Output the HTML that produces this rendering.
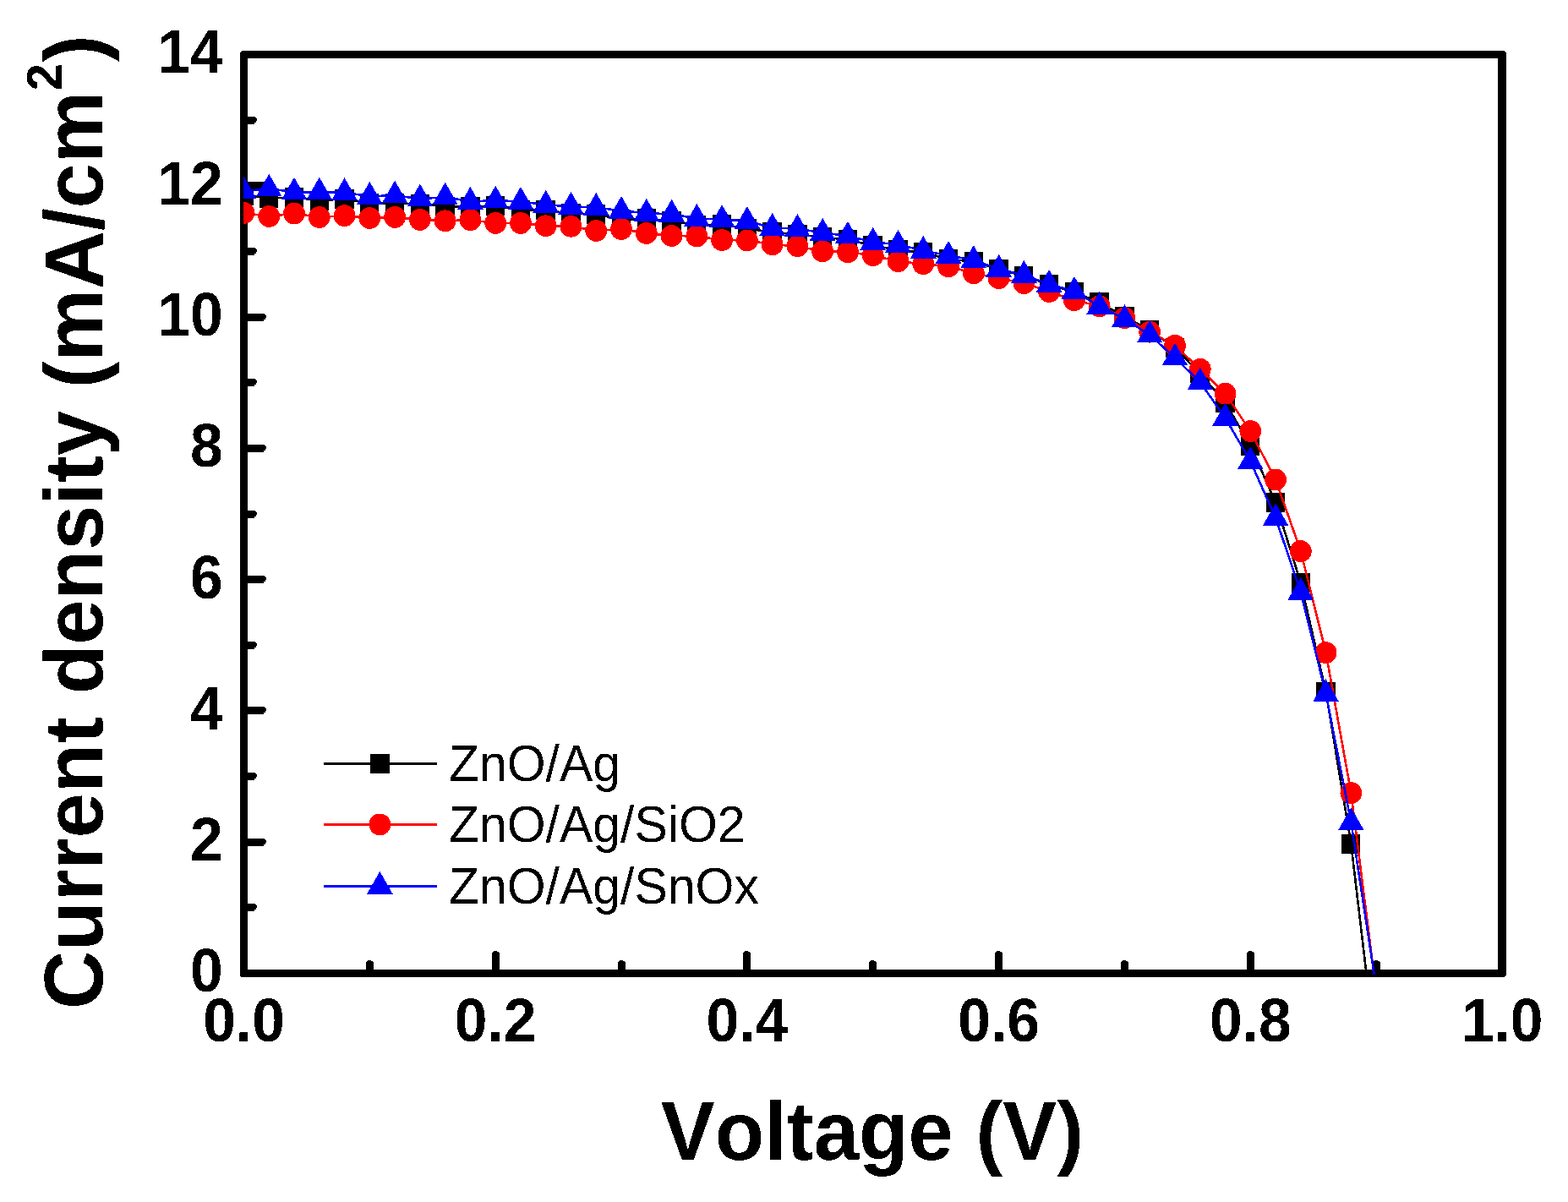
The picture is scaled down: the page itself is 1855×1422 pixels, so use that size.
<!DOCTYPE html>
<html lang="en">
<head>
<meta charset="utf-8">
<title>Current density vs Voltage</title>
<style>
html,body{margin:0;padding:0;background:#fff;}
body{width:1855px;height:1422px;overflow:hidden;}
svg{display:block;}
text{font-family:"Liberation Sans",Arial,Helvetica,sans-serif;fill:#000;font-kerning:none;}
.tk{font-weight:bold;font-size:69.6px;}
.ti{font-weight:bold;font-size:95.8px;}
.lg{font-size:59px;}
</style>
</head>
<body>
<svg width="1855" height="1422" viewBox="0 0 1855 1422">
<defs><filter id="crisp" x="-5%" y="-25%" width="110%" height="150%" color-interpolation-filters="sRGB"><feComponentTransfer><feFuncA type="discrete" tableValues="0 1"/></feComponentTransfer></filter><clipPath id="plot"><rect x="288" y="64" width="1490" height="1089"/></clipPath></defs>
<rect x="0" y="0" width="1855" height="1422" fill="#fff"/>
<g id="axes" shape-rendering="crispEdges" fill="#000">
<path fill-rule="evenodd" d="M286 60 H1779 L1782 62.5 V1153.5 L1779.5 1156 H285 L284 1155 V62 Z M293 69 V1147 H1772 V69 Z"/>
<path id="yticks" d="M290 1069H302V1070H290ZM290 1070H303V1071H290ZM290 1071H304V1072H290ZM290 1072H304V1073H290ZM290 1073H304V1074H290ZM290 1074H303V1075H290ZM290 1075H303V1076H290ZM290 1076H301V1077H290ZM290 1077H301V1078H290ZM290 992H313V993H290ZM290 993H314V994H290ZM290 994H315V995H290ZM290 995H315V996H290ZM290 996H315V997H290ZM290 997H314V998H290ZM290 998H314V999H290ZM290 999H312V1000H290ZM290 1000H312V1001H290ZM290 914H302V915H290ZM290 915H303V916H290ZM290 916H304V917H290ZM290 917H304V918H290ZM290 918H304V919H290ZM290 919H303V920H290ZM290 920H303V921H290ZM290 921H301V922H290ZM290 922H301V923H290ZM290 836H313V837H290ZM290 837H314V838H290ZM290 838H315V839H290ZM290 839H315V840H290ZM290 840H315V841H290ZM290 841H314V842H290ZM290 842H314V843H290ZM290 843H312V844H290ZM290 844H312V845H290ZM290 759H302V760H290ZM290 760H303V761H290ZM290 761H304V762H290ZM290 762H304V763H290ZM290 763H304V764H290ZM290 764H303V765H290ZM290 765H303V766H290ZM290 766H301V767H290ZM290 767H301V768H290ZM290 681H313V682H290ZM290 682H314V683H290ZM290 683H315V684H290ZM290 684H315V685H290ZM290 685H315V686H290ZM290 686H314V687H290ZM290 687H314V688H290ZM290 688H312V689H290ZM290 689H312V690H290ZM290 604H302V605H290ZM290 605H303V606H290ZM290 606H304V607H290ZM290 607H304V608H290ZM290 608H304V609H290ZM290 609H303V610H290ZM290 610H303V611H290ZM290 611H301V612H290ZM290 612H301V613H290ZM290 526H313V527H290ZM290 527H314V528H290ZM290 528H315V529H290ZM290 529H315V530H290ZM290 530H315V531H290ZM290 531H314V532H290ZM290 532H314V533H290ZM290 533H312V534H290ZM290 534H312V535H290ZM290 448H302V449H290ZM290 449H303V450H290ZM290 450H304V451H290ZM290 451H304V452H290ZM290 452H304V453H290ZM290 453H303V454H290ZM290 454H303V455H290ZM290 455H301V456H290ZM290 456H301V457H290ZM290 371H313V372H290ZM290 372H314V373H290ZM290 373H315V374H290ZM290 374H315V375H290ZM290 375H315V376H290ZM290 376H314V377H290ZM290 377H314V378H290ZM290 378H312V379H290ZM290 379H312V380H290ZM290 293H302V294H290ZM290 294H303V295H290ZM290 295H304V296H290ZM290 296H304V297H290ZM290 297H304V298H290ZM290 298H303V299H290ZM290 299H303V300H290ZM290 300H301V301H290ZM290 301H301V302H290ZM290 215H313V216H290ZM290 216H314V217H290ZM290 217H315V218H290ZM290 218H315V219H290ZM290 219H315V220H290ZM290 220H314V221H290ZM290 221H314V222H290ZM290 222H312V223H290ZM290 223H312V224H290ZM290 138H302V139H290ZM290 139H303V140H290ZM290 140H304V141H290ZM290 141H304V142H290ZM290 142H304V143H290ZM290 143H303V144H290ZM290 144H303V145H290ZM290 145H301V146H290ZM290 146H301V147H290Z"/>
<path id="xticks" d="M433 1150V1138H434V1150ZM434 1150V1137H435V1150ZM435 1150V1136H436V1150ZM436 1150V1136H437V1150ZM437 1150V1136H438V1150ZM438 1150V1136H439V1150ZM439 1150V1137H440V1150ZM440 1150V1137H441V1150ZM441 1150V1138H442V1150ZM582 1150V1127H583V1150ZM583 1150V1126H584V1150ZM584 1150V1125H585V1150ZM585 1150V1125H586V1150ZM586 1150V1125H587V1150ZM587 1150V1125H588V1150ZM588 1150V1126H589V1150ZM589 1150V1126H590V1150ZM590 1150V1127H591V1150ZM731 1150V1138H732V1150ZM732 1150V1137H733V1150ZM733 1150V1136H734V1150ZM734 1150V1136H735V1150ZM735 1150V1136H736V1150ZM736 1150V1136H737V1150ZM737 1150V1137H738V1150ZM738 1150V1137H739V1150ZM739 1150V1138H740V1150ZM879 1150V1127H880V1150ZM880 1150V1126H881V1150ZM881 1150V1125H882V1150ZM882 1150V1125H883V1150ZM883 1150V1125H884V1150ZM884 1150V1125H885V1150ZM885 1150V1126H886V1150ZM886 1150V1126H887V1150ZM887 1150V1127H888V1150ZM1028 1150V1138H1029V1150ZM1029 1150V1137H1030V1150ZM1030 1150V1136H1031V1150ZM1031 1150V1136H1032V1150ZM1032 1150V1136H1033V1150ZM1033 1150V1136H1034V1150ZM1034 1150V1137H1035V1150ZM1035 1150V1137H1036V1150ZM1036 1150V1138H1037V1150ZM1177 1150V1127H1178V1150ZM1178 1150V1126H1179V1150ZM1179 1150V1125H1180V1150ZM1180 1150V1125H1181V1150ZM1181 1150V1125H1182V1150ZM1182 1150V1125H1183V1150ZM1183 1150V1126H1184V1150ZM1184 1150V1126H1185V1150ZM1185 1150V1127H1186V1150ZM1326 1150V1138H1327V1150ZM1327 1150V1137H1328V1150ZM1328 1150V1136H1329V1150ZM1329 1150V1136H1330V1150ZM1330 1150V1136H1331V1150ZM1331 1150V1136H1332V1150ZM1332 1150V1137H1333V1150ZM1333 1150V1137H1334V1150ZM1334 1150V1138H1335V1150ZM1475 1150V1127H1476V1150ZM1476 1150V1126H1477V1150ZM1477 1150V1125H1478V1150ZM1478 1150V1125H1479V1150ZM1479 1150V1125H1480V1150ZM1480 1150V1125H1481V1150ZM1481 1150V1126H1482V1150ZM1482 1150V1126H1483V1150ZM1483 1150V1127H1484V1150ZM1624 1150V1138H1625V1150ZM1625 1150V1137H1626V1150ZM1626 1150V1136H1627V1150ZM1627 1150V1136H1628V1150ZM1628 1150V1136H1629V1150ZM1629 1150V1136H1630V1150ZM1630 1150V1137H1631V1150ZM1631 1150V1137H1632V1150ZM1632 1150V1138H1633V1150Z"/>
</g>
<g id="ylabels" class="tk" text-anchor="end" filter="url(#crisp)">
<text transform="translate(263.7 1173.4) scale(1 1.03)">0</text><text transform="translate(263.7 1018.11) scale(1 1.03)">2</text><text transform="translate(263.7 862.83) scale(1 1.03)">4</text><text transform="translate(263.7 707.54) scale(1 1.03)">6</text><text transform="translate(263.7 552.26) scale(1 1.03)">8</text><text transform="translate(263.7 396.97) scale(1 1.03)">10</text><text transform="translate(263.7 241.69) scale(1 1.03)">12</text><text transform="translate(263.7 86.4) scale(1 1.03)">14</text>
</g>
<g id="xlabels" class="tk" text-anchor="middle" filter="url(#crisp)">
<text transform="translate(288.5 1232) scale(1 1.03)">0.0</text><text transform="translate(586.2 1232) scale(1 1.03)">0.2</text><text transform="translate(883.9 1232) scale(1 1.03)">0.4</text><text transform="translate(1181.6 1232) scale(1 1.03)">0.6</text><text transform="translate(1479.3 1232) scale(1 1.03)">0.8</text><text transform="translate(1777 1232) scale(1 1.03)">1.0</text>
</g>
<text class="ti" filter="url(#crisp)" text-anchor="middle" transform="translate(1032 1372) scale(1 1.025)">Voltage (V)</text>
<text class="ti" filter="url(#crisp)" text-anchor="middle" transform="translate(121.3 617.6) rotate(-90) scale(1 1.025)">Current density (mA/cm<tspan font-size="58" dx="0.6" dy="-46.6">2</tspan><tspan dx="1.6" dy="46.6">)</tspan></text>
<g id="data" clip-path="url(#plot)" shape-rendering="crispEdges" fill="none" stroke-width="2.6" stroke-linejoin="round">
<path stroke="#000" d="M288.5 231 L318.27 234.4 L348.04 233.7 L377.81 237 L407.58 235.5 L437.35 240.5 L467.12 240.8 L496.89 241.5 L526.66 244 L556.43 244.7 L586.2 243.5 L615.97 248 L645.74 248.7 L675.51 252.7 L705.28 253.6 L735.05 259.7 L764.82 258.7 L794.59 261.3 L824.36 266.3 L854.13 265.5 L883.9 270.6 L913.67 274.6 L943.44 277.4 L973.21 280.5 L1002.98 283.7 L1032.75 290.6 L1062.52 295.6 L1092.29 298.7 L1122.06 306.6 L1151.83 309.5 L1181.6 318.6 L1211.37 326.6 L1241.14 336.7 L1270.91 345.7 L1300.68 357.6 L1330.45 374.8 L1360.22 390.7 L1389.99 411.6 L1419.76 441.8 L1449.53 476.2 L1479.3 527.1 L1509.07 594.4 L1538.84 689.7 L1568.61 818.6 L1598.38 998.6 L1628.15 1250"/>
<g fill="#000" stroke="none"><rect x="277.2" y="219.5" width="22.4" height="23"/><rect x="306.97" y="222.9" width="22.4" height="23"/><rect x="336.74" y="222.2" width="22.4" height="23"/><rect x="366.51" y="225.5" width="22.4" height="23"/><rect x="396.28" y="224" width="22.4" height="23"/><rect x="426.05" y="229" width="22.4" height="23"/><rect x="455.82" y="229.3" width="22.4" height="23"/><rect x="485.59" y="230" width="22.4" height="23"/><rect x="515.36" y="232.5" width="22.4" height="23"/><rect x="545.13" y="233.2" width="22.4" height="23"/><rect x="574.9" y="232" width="22.4" height="23"/><rect x="604.67" y="236.5" width="22.4" height="23"/><rect x="634.44" y="237.2" width="22.4" height="23"/><rect x="664.21" y="241.2" width="22.4" height="23"/><rect x="693.98" y="242.1" width="22.4" height="23"/><rect x="723.75" y="248.2" width="22.4" height="23"/><rect x="753.52" y="247.2" width="22.4" height="23"/><rect x="783.29" y="249.8" width="22.4" height="23"/><rect x="813.06" y="254.8" width="22.4" height="23"/><rect x="842.83" y="254" width="22.4" height="23"/><rect x="872.6" y="259.1" width="22.4" height="23"/><rect x="902.37" y="263.1" width="22.4" height="23"/><rect x="932.14" y="265.9" width="22.4" height="23"/><rect x="961.91" y="269" width="22.4" height="23"/><rect x="991.68" y="272.2" width="22.4" height="23"/><rect x="1021.45" y="279.1" width="22.4" height="23"/><rect x="1051.22" y="284.1" width="22.4" height="23"/><rect x="1080.99" y="287.2" width="22.4" height="23"/><rect x="1110.76" y="295.1" width="22.4" height="23"/><rect x="1140.53" y="298" width="22.4" height="23"/><rect x="1170.3" y="307.1" width="22.4" height="23"/><rect x="1200.07" y="315.1" width="22.4" height="23"/><rect x="1229.84" y="325.2" width="22.4" height="23"/><rect x="1259.61" y="334.2" width="22.4" height="23"/><rect x="1289.38" y="346.1" width="22.4" height="23"/><rect x="1319.15" y="363.3" width="22.4" height="23"/><rect x="1348.92" y="379.2" width="22.4" height="23"/><rect x="1378.69" y="400.1" width="22.4" height="23"/><rect x="1408.46" y="430.3" width="22.4" height="23"/><rect x="1438.23" y="464.7" width="22.4" height="23"/><rect x="1468" y="515.6" width="22.4" height="23"/><rect x="1497.77" y="582.9" width="22.4" height="23"/><rect x="1527.54" y="678.2" width="22.4" height="23"/><rect x="1557.31" y="807.1" width="22.4" height="23"/><rect x="1587.08" y="987.1" width="22.4" height="23"/></g>
<path stroke="#f00" d="M288.5 251.9 L318.27 256 L348.04 252.5 L377.81 257 L407.58 255.2 L437.35 258 L467.12 256.9 L496.89 259.9 L526.66 261.3 L556.43 260.2 L586.2 263.9 L615.97 263.9 L645.74 267.2 L675.51 267.8 L705.28 273 L735.05 271 L764.82 275.9 L794.59 279 L824.36 279.4 L854.13 284 L883.9 284.4 L913.67 289.3 L943.44 291.2 L973.21 297.3 L1002.98 298.2 L1032.75 302.2 L1062.52 309.2 L1092.29 312.2 L1122.06 315.2 L1151.83 323.2 L1181.6 329.1 L1211.37 335.1 L1241.14 345 L1270.91 355.1 L1300.68 362.3 L1330.45 376.1 L1360.22 392.7 L1389.99 408.8 L1419.76 436.8 L1449.53 465.7 L1479.3 510.1 L1509.07 567.5 L1538.84 652.1 L1568.61 772.2 L1598.38 938.2 L1628.15 1174"/>
<g fill="#f00" stroke="none"><circle cx="288.5" cy="251.9" r="12.9"/><circle cx="318.27" cy="256" r="12.9"/><circle cx="348.04" cy="252.5" r="12.9"/><circle cx="377.81" cy="257" r="12.9"/><circle cx="407.58" cy="255.2" r="12.9"/><circle cx="437.35" cy="258" r="12.9"/><circle cx="467.12" cy="256.9" r="12.9"/><circle cx="496.89" cy="259.9" r="12.9"/><circle cx="526.66" cy="261.3" r="12.9"/><circle cx="556.43" cy="260.2" r="12.9"/><circle cx="586.2" cy="263.9" r="12.9"/><circle cx="615.97" cy="263.9" r="12.9"/><circle cx="645.74" cy="267.2" r="12.9"/><circle cx="675.51" cy="267.8" r="12.9"/><circle cx="705.28" cy="273" r="12.9"/><circle cx="735.05" cy="271" r="12.9"/><circle cx="764.82" cy="275.9" r="12.9"/><circle cx="794.59" cy="279" r="12.9"/><circle cx="824.36" cy="279.4" r="12.9"/><circle cx="854.13" cy="284" r="12.9"/><circle cx="883.9" cy="284.4" r="12.9"/><circle cx="913.67" cy="289.3" r="12.9"/><circle cx="943.44" cy="291.2" r="12.9"/><circle cx="973.21" cy="297.3" r="12.9"/><circle cx="1002.98" cy="298.2" r="12.9"/><circle cx="1032.75" cy="302.2" r="12.9"/><circle cx="1062.52" cy="309.2" r="12.9"/><circle cx="1092.29" cy="312.2" r="12.9"/><circle cx="1122.06" cy="315.2" r="12.9"/><circle cx="1151.83" cy="323.2" r="12.9"/><circle cx="1181.6" cy="329.1" r="12.9"/><circle cx="1211.37" cy="335.1" r="12.9"/><circle cx="1241.14" cy="345" r="12.9"/><circle cx="1270.91" cy="355.1" r="12.9"/><circle cx="1300.68" cy="362.3" r="12.9"/><circle cx="1330.45" cy="376.1" r="12.9"/><circle cx="1360.22" cy="392.7" r="12.9"/><circle cx="1389.99" cy="408.8" r="12.9"/><circle cx="1419.76" cy="436.8" r="12.9"/><circle cx="1449.53" cy="465.7" r="12.9"/><circle cx="1479.3" cy="510.1" r="12.9"/><circle cx="1509.07" cy="567.5" r="12.9"/><circle cx="1538.84" cy="652.1" r="12.9"/><circle cx="1568.61" cy="772.2" r="12.9"/><circle cx="1598.38" cy="938.2" r="12.9"/></g>
<path stroke="#00f" d="M288.5 226.2 L318.27 223.2 L348.04 227.2 L377.81 227.2 L407.58 227.7 L437.35 232.3 L467.12 231.2 L496.89 235.1 L526.66 233.2 L556.43 238.4 L586.2 237.2 L615.97 238.4 L645.74 242.3 L675.51 244.4 L705.28 245.4 L735.05 249.4 L764.82 252.3 L794.59 253.3 L824.36 258.4 L854.13 259.6 L883.9 261.5 L913.67 269.4 L943.44 270.6 L973.21 275.3 L1002.98 279.2 L1032.75 286.3 L1062.52 289.4 L1092.29 296.4 L1122.06 302.4 L1151.83 307.6 L1181.6 318.4 L1211.37 325.4 L1241.14 336.4 L1270.91 344.4 L1300.68 362.4 L1330.45 377.5 L1360.22 396.2 L1389.99 423.2 L1419.76 452.2 L1449.53 494.3 L1479.3 545.7 L1509.07 612.6 L1538.84 700.4 L1568.61 820.8 L1598.38 973 L1628.15 1168.7"/>
<g fill="#00f" stroke="none"><polygon points="288.5,208.7 303.8,235.4 273.2,235.4"/><polygon points="318.27,205.7 333.57,232.4 302.97,232.4"/><polygon points="348.04,209.7 363.34,236.4 332.74,236.4"/><polygon points="377.81,209.7 393.11,236.4 362.51,236.4"/><polygon points="407.58,210.2 422.88,236.9 392.28,236.9"/><polygon points="437.35,214.8 452.65,241.5 422.05,241.5"/><polygon points="467.12,213.7 482.42,240.4 451.82,240.4"/><polygon points="496.89,217.6 512.19,244.3 481.59,244.3"/><polygon points="526.66,215.7 541.96,242.4 511.36,242.4"/><polygon points="556.43,220.9 571.73,247.6 541.13,247.6"/><polygon points="586.2,219.7 601.5,246.4 570.9,246.4"/><polygon points="615.97,220.9 631.27,247.6 600.67,247.6"/><polygon points="645.74,224.8 661.04,251.5 630.44,251.5"/><polygon points="675.51,226.9 690.81,253.6 660.21,253.6"/><polygon points="705.28,227.9 720.58,254.6 689.98,254.6"/><polygon points="735.05,231.9 750.35,258.6 719.75,258.6"/><polygon points="764.82,234.8 780.12,261.5 749.52,261.5"/><polygon points="794.59,235.8 809.89,262.5 779.29,262.5"/><polygon points="824.36,240.9 839.66,267.6 809.06,267.6"/><polygon points="854.13,242.1 869.43,268.8 838.83,268.8"/><polygon points="883.9,244 899.2,270.7 868.6,270.7"/><polygon points="913.67,251.9 928.97,278.6 898.37,278.6"/><polygon points="943.44,253.1 958.74,279.8 928.14,279.8"/><polygon points="973.21,257.8 988.51,284.5 957.91,284.5"/><polygon points="1002.98,261.7 1018.28,288.4 987.68,288.4"/><polygon points="1032.75,268.8 1048.05,295.5 1017.45,295.5"/><polygon points="1062.52,271.9 1077.82,298.6 1047.22,298.6"/><polygon points="1092.29,278.9 1107.59,305.6 1076.99,305.6"/><polygon points="1122.06,284.9 1137.36,311.6 1106.76,311.6"/><polygon points="1151.83,290.1 1167.13,316.8 1136.53,316.8"/><polygon points="1181.6,300.9 1196.9,327.6 1166.3,327.6"/><polygon points="1211.37,307.9 1226.67,334.6 1196.07,334.6"/><polygon points="1241.14,318.9 1256.44,345.6 1225.84,345.6"/><polygon points="1270.91,326.9 1286.21,353.6 1255.61,353.6"/><polygon points="1300.68,344.9 1315.98,371.6 1285.38,371.6"/><polygon points="1330.45,360 1345.75,386.7 1315.15,386.7"/><polygon points="1360.22,378.7 1375.52,405.4 1344.92,405.4"/><polygon points="1389.99,405.7 1405.29,432.4 1374.69,432.4"/><polygon points="1419.76,434.7 1435.06,461.4 1404.46,461.4"/><polygon points="1449.53,476.8 1464.83,503.5 1434.23,503.5"/><polygon points="1479.3,528.2 1494.6,554.9 1464,554.9"/><polygon points="1509.07,595.1 1524.37,621.8 1493.77,621.8"/><polygon points="1538.84,682.9 1554.14,709.6 1523.54,709.6"/><polygon points="1568.61,803.3 1583.91,830 1553.31,830"/><polygon points="1598.38,955.5 1613.68,982.2 1583.08,982.2"/></g>
</g>
<g id="legend" shape-rendering="crispEdges">
<line x1="382.6" y1="903.6" x2="516.6" y2="903.6" stroke="#000" stroke-width="2.6"/><rect x="437.9" y="892.1" width="23.0" height="23.0" fill="#000"/>
<line x1="382.6" y1="975.4" x2="516.6" y2="975.4" stroke="#f00" stroke-width="2.6"/><circle cx="449.4" cy="975.4" r="12.9" fill="#f00"/>
<line x1="382.6" y1="1048.4" x2="516.6" y2="1048.4" stroke="#00f" stroke-width="2.6"/><polygon points="449.4,1030.9 464.7,1057.6 434.1,1057.6" fill="#00f"/>
</g>
<g class="lg" filter="url(#crisp)">
<text transform="translate(530.8 923.9) scale(1 1.02)">ZnO/Ag</text><text transform="translate(530.8 995.7) scale(1 1.02)">ZnO/Ag/SiO2</text><text transform="translate(530.8 1068.7) scale(1 1.02)">ZnO/Ag/SnOx</text>
</g>
</svg>
</body>
</html>
